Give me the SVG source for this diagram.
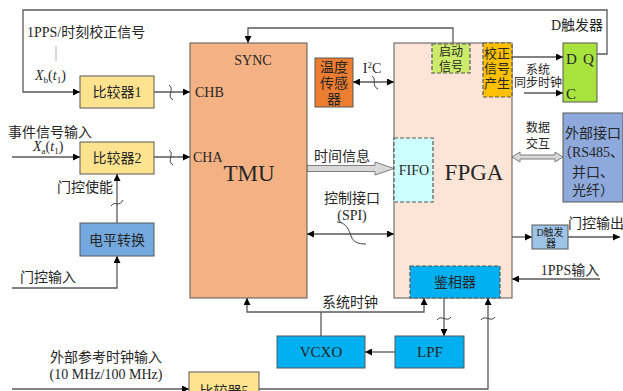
<svg xmlns="http://www.w3.org/2000/svg" width="623" height="391" viewBox="0 0 623 391">
<defs>
<style>
.b{stroke:#595959;stroke-width:1}
.d{stroke-dasharray:4,2;stroke:#595959;stroke-width:1.2}
.ln{fill:none;stroke:#595959;stroke-width:1.3}
.sq{fill:none;stroke:#404040;stroke-width:1}
text{font-family:"Liberation Serif","Noto Sans CJK SC",serif;fill:#262626;font-size:14px}
.c{text-anchor:middle}
.it{font-style:italic}
.f9{font-size:9px}
.f10{font-size:10px}
.f12{font-size:12px}
.f13{font-size:13px}
.f15{font-size:15px}
.f22{font-size:23px}
</style>
<marker id="a" viewBox="0 0 10 10" refX="10" refY="5" markerWidth="8" markerHeight="7" markerUnits="userSpaceOnUse" orient="auto-start-reverse">
<path d="M0,0 L10,5 L0,10 z" fill="#000"/>
</marker>
</defs>
<rect width="623" height="391" fill="#fff"/>

<g id="connectors">
<path class="ln" d="M597,54 H607 V10 H23 V92 H80" marker-end="url(#a)"/>
<line x1="56" y1="46" x2="56" y2="61" stroke="#b0b0b0" stroke-width="1"/>
<line class="ln" x1="154" y1="92" x2="190" y2="92" marker-end="url(#a)"/>
<path class="sq" d="M169,85 C175,89 166,96 173,100"/>
<line class="ln" x1="12" y1="157" x2="80" y2="157" marker-end="url(#a)"/>
<line class="ln" x1="154" y1="157" x2="190" y2="157" marker-end="url(#a)"/>
<path class="sq" d="M169,150 C175,154 166,161 173,165"/>
<line class="ln" x1="117" y1="223" x2="117" y2="174" marker-end="url(#a)"/>
<path class="sq" d="M111,206 C115,200 119,208 123,200"/>
<path class="ln" d="M12,288 H117 V256" marker-end="url(#a)"/>
<path class="ln" d="M453,43 V28 H248 V43" marker-end="url(#a)"/>
<line class="ln" x1="353" y1="82" x2="394" y2="82" marker-start="url(#a)" marker-end="url(#a)"/>
<path class="sq" d="M372,76 C377,79 371,86 378,89"/>
<polygon points="307,165.5 375,165.5 375,162 394,168.5 375,175 375,171.5 307,171.5" fill="#d9d9d9" stroke="#7f7f7f" stroke-width="1"/>
<line class="ln" x1="307" y1="234" x2="394" y2="234" marker-start="url(#a)" marker-end="url(#a)"/>
<path class="sq" d="M337,222 C346,222 349,230 351,236 C353,242 358,244 366,244"/>
<line class="ln" x1="512" y1="57" x2="563" y2="57" marker-end="url(#a)"/>
<line class="ln" x1="524" y1="93" x2="563" y2="93" marker-end="url(#a)"/>
<polygon points="512,157 520,152 520,155 555,155 555,152 563,157 555,162 555,159 520,159 520,162" fill="#d9d9d9" stroke="#7f7f7f" stroke-width="1"/>
<line class="ln" x1="512" y1="237" x2="532" y2="237" marker-end="url(#a)"/>
<line class="ln" x1="568" y1="237" x2="620" y2="237" marker-end="url(#a)"/>
<line class="ln" x1="600" y1="279" x2="512" y2="279" marker-end="url(#a)"/>
<path class="ln" d="M247,298 V312 H424 V298" marker-start="url(#a)" marker-end="url(#a)"/>
<line class="ln" x1="321" y1="312" x2="321" y2="336"/>
<line class="ln" x1="444" y1="298" x2="444" y2="336" marker-end="url(#a)"/>
<path class="sq" d="M437,320 C441,314 447,323 451,317"/>
<line class="ln" x1="395" y1="352" x2="365" y2="352" marker-end="url(#a)"/>
<line class="ln" x1="12" y1="389" x2="189" y2="389" marker-end="url(#a)"/>
<path class="ln" d="M259,389 H488 V298" marker-end="url(#a)"/>
<path class="sq" d="M481,320 C485,314 491,323 495,317"/>
</g>

<g id="labels">
<text x="27" y="37">1PPS/时刻校正信号</text>
<text x="35" y="80"><tspan class="it">X</tspan><tspan class="f9" dy="3">b</tspan><tspan dy="-3">(</tspan><tspan class="it">t</tspan><tspan class="f9" dy="3">1</tspan><tspan dy="-3">)</tspan></text>
<text x="50" y="137" class="c">事件信号输入</text>
<text x="33" y="151"><tspan class="it">X</tspan><tspan class="f9" dy="3">a</tspan><tspan dy="-3">(</tspan><tspan class="it">t</tspan><tspan class="f9" dy="3">1</tspan><tspan dy="-3">)</tspan></text>
<text x="85" y="192" class="c">门控使能</text>
<text x="48" y="282" class="c">门控输入</text>
<text x="106" y="362" class="c">外部参考时钟输入</text>
<text x="106" y="379" class="c">(10 MHz/100 MHz)</text>
<text x="342" y="161" class="c">时间信息</text>
<text x="352" y="203" class="c">控制接口</text>
<text x="352" y="220" class="c">(SPI)</text>
<text x="372" y="73" class="c">I<tspan class="f9" dy="-5">2</tspan><tspan dy="5">C</tspan></text>
<text x="577" y="30" class="c">D触发器</text>
<text x="538" y="74" class="c f12">系统</text>
<text x="538" y="87" class="c f12">同步时钟</text>
<text x="538" y="132" class="c f12">数据</text>
<text x="538" y="148" class="c f12">交互</text>
<text x="596" y="228" class="c">门控输出</text>
<text x="570" y="275" class="c">1PPS输入</text>
<text x="350" y="307" class="c">系统时钟</text>
</g>

<g id="cmp1"><rect class="b" x="80" y="76" width="74" height="32" fill="#FFE38F"/><text x="117" y="97" class="c">比较器1</text></g>
<g id="cmp2"><rect class="b" x="80" y="142" width="74" height="32" fill="#FFE38F"/><text x="117" y="163" class="c">比较器2</text></g>
<g id="level"><rect class="b" x="80" y="223" width="74" height="33" fill="#73A9DE"/><text x="117" y="245" class="c">电平转换</text></g>
<g id="cmp5"><rect class="b" x="189" y="372" width="70" height="32" fill="#FFE38F"/><text x="224" y="396" class="c">比较器5</text></g>

<g id="tmu">
<rect class="b" x="190" y="43" width="117" height="255" fill="#F4B183"/>
<text x="253" y="65" class="c">SYNC</text>
<text x="195" y="97">CHB</text>
<text x="193" y="162">CHA</text>
<text x="249" y="181" class="c f22">TMU</text>
</g>

<g id="temp"><rect class="b" x="315" y="58" width="38" height="49" fill="#ED7D31"/>
<text x="334" y="72" class="c">温度</text><text x="334" y="88" class="c">传感</text><text x="334" y="104" class="c">器</text></g>

<g id="fpga">
<rect class="b" x="394" y="43" width="118" height="255" fill="#FCE4D6"/>
<text x="474" y="180" class="c f22">FPGA</text>
</g>
<g id="start"><rect class="d" x="432" y="44" width="38" height="29" fill="#CDEB6B"/>
<text x="451" y="56" class="c f12">启动</text><text x="451" y="71" class="c f12">信号</text></g>
<g id="corr"><rect class="d" x="483" y="43" width="29" height="54" fill="#FFC000"/>
<text x="497" y="58" class="c f13">校正</text><text x="497" y="73" class="c f13">信号</text><text x="497" y="88" class="c f13">产生</text></g>
<g id="fifo"><rect class="d" x="394" y="138" width="39" height="64" fill="#CCFFFF"/><text x="414" y="175" class="c">FIFO</text></g>
<g id="pd"><rect class="d" x="410" y="266" width="90" height="32" fill="#00B0F0"/><text x="455" y="287" class="c">鉴相器</text></g>

<g id="dff"><rect class="b" x="563" y="43" width="34" height="59" fill="#A9E33E"/>
<text x="566" y="64" class="f15">D</text><text x="583" y="64" class="f15">Q</text><text x="566" y="99" class="f15">C</text></g>

<g id="ext"><rect class="b" x="563" y="113" width="60" height="89" fill="#8EA9DB"/>
<text x="593" y="138" class="c">外部接口</text>
<text x="558" y="157">（RS485、</text>
<text x="572" y="177">并口、</text>
<text x="572" y="195">光纤）</text></g>

<g id="dff2"><rect class="b" x="532" y="225" width="36" height="24" fill="#9DC3E6"/>
<text x="550" y="236" class="c f10">D触发</text><text x="551" y="247" class="c f10">器</text></g>

<g id="vcxo"><rect class="b" x="277" y="336" width="88" height="32" fill="#00B0F0"/><text x="321" y="357" class="c f15">VCXO</text></g>
<g id="lpf"><rect class="b" x="395" y="336" width="69" height="32" fill="#00B0F0"/><text x="430" y="357" class="c f15">LPF</text></g>
</svg>
